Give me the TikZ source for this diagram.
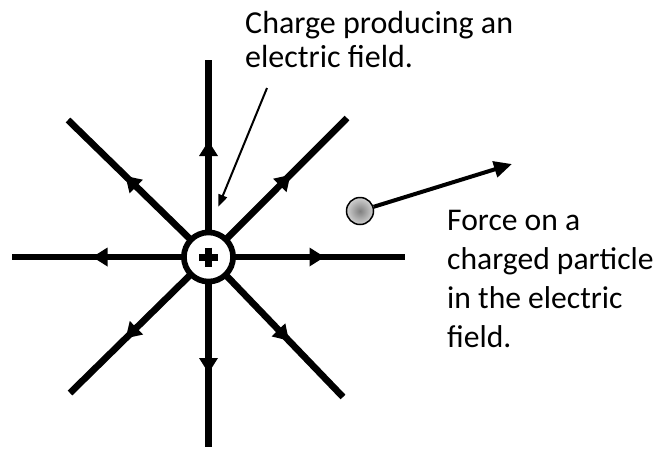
\documentclass[tikz,border=0pt]{standalone}
\usepackage{fontspec}
\setmainfont{Carlito}
\usetikzlibrary{arrows.meta,calc}
\begin{document}
\begin{tikzpicture}[x=1pt,y=-1pt,
  fieldline/.style={line width=6.7pt},
  chargeball/.style={circle,draw,line width=5.7pt,fill=white,minimum size=49.2pt,inner sep=0pt},
  particle/.style={circle,draw,line width=1.5pt,minimum size=27pt,inner sep=0pt,shading=radial,inner color=black!50,outer color=black!18},
  callout/.style={line width=2pt,-{Triangle[length=12pt,width=9pt]}},
  forcearrow/.style={line width=4pt,-{Triangle[length=18pt,width=16pt]}},
  label/.style={anchor=base west,inner sep=0pt,align=left}
]
\useasboundingbox (0,0) rectangle (667,448);
\coordinate (c) at (208.5,257);
\coordinate (eN) at (208.5,60);
\coordinate (eS) at (208.5,447);
\coordinate (eW) at (12,257);
\coordinate (eE) at (405,257);
\coordinate (eNW) at (68,120);
\coordinate (eNE) at (347,118);
\coordinate (eSW) at (70,393);
\coordinate (eSE) at (343,397);
\foreach \d in {N,S,W,E,NW,NE,SW,SE}{
  \draw[fieldline] (c) -- (e\d);
  \coordinate (a\d) at ($(c)!116pt!(e\d)$);
  \coordinate (b\d) at ($(c)!101pt!(e\d)$);
  \fill (a\d) -- ($(b\d)!9.5pt!90:(a\d)$) -- ($(b\d)!9.5pt!-90:(a\d)$) -- cycle;
}
\node[chargeball] (q) at (c) {};
\draw[line width=7pt] ($(q.center)+(-9.5,0)$) -- ($(q.center)+(9.5,0)$);
\draw[line width=7pt] ($(q.center)+(0,-9.5)$) -- ($(q.center)+(0,9.5)$);

\node[label,font=\fontsize{32}{34}\selectfont] (lab1) at (245,67) {Charge producing an\\electric field.};
\coordinate (p1) at (267,88);
\coordinate (p2) at (218.3,206.7);
\draw[callout] (p1) -- (p2);

\node[particle] (pt) at (360,211) {};
\coordinate (ftip) at (512,164);
\draw[forcearrow] (pt) -- (ftip);

\node[label,font=\fontsize{31.6}{39}\selectfont] (lab2) at (447,347) {Force on a\\charged particle\\in the electric\\field.};
\end{tikzpicture}
\end{document}
